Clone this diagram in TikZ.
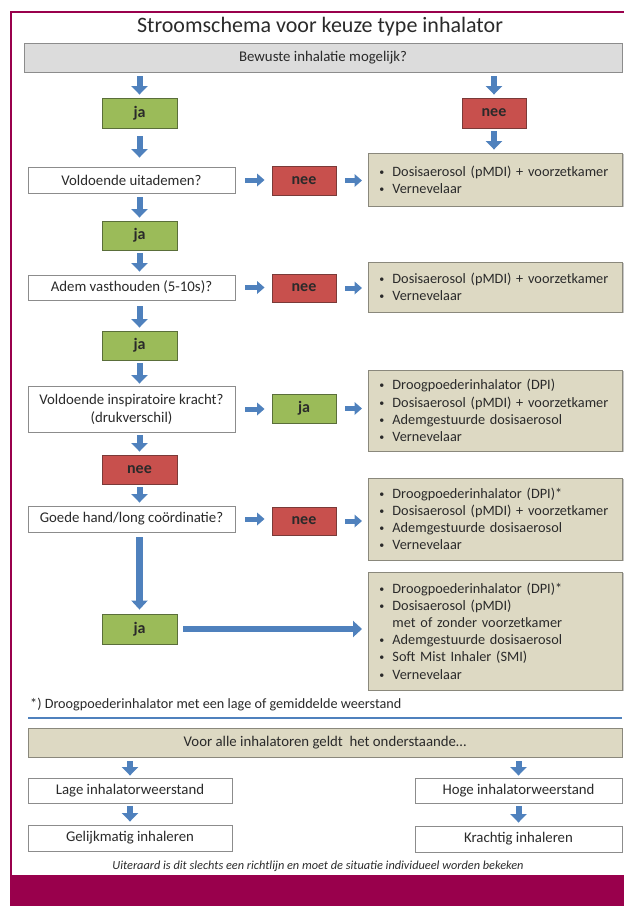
\documentclass[tikz,border=0pt]{standalone}
\usepackage{fontspec}
\setmainfont{Carlito}
\usetikzlibrary{arrows.meta,shadows}
\definecolor{crim}{HTML}{99004C}
\definecolor{arrblue}{HTML}{4F81BD}
\definecolor{gfill}{HTML}{9BBB59}
\definecolor{gdraw}{HTML}{5A6E3A}
\definecolor{rfill}{HTML}{C8504D}
\definecolor{rdraw}{HTML}{7A3A38}
\definecolor{bfill}{HTML}{DDD9C3}
\definecolor{bdraw}{HTML}{8A887C}
\definecolor{gryfill}{HTML}{DCDCDC}
\definecolor{grydraw}{HTML}{8C8C8C}
\definecolor{txt}{HTML}{2A2A2A}
\newcommand\bit[1]{\makebox[13pt][l]{\raisebox{0.15ex}{\fontsize{10}{10}\selectfont\textbullet}}#1}
\newcommand\bcont[1]{\hspace*{13pt}#1}
\begin{document}
\begin{tikzpicture}[x=1pt,y=-1pt,
  bx/.style={draw=grydraw, line width=0.9pt, inner sep=0pt, text=txt,
    font=\fontsize{14.8}{17}\selectfont, align=center,
    drop shadow={shadow xshift=1.3pt, shadow yshift=-1.3pt, fill=black, opacity=0.22}},
  whitebox/.style={bx, fill=white},
  graybox/.style={bx, fill=gryfill},
  jabox/.style={bx, draw=gdraw, fill=gfill, minimum width=75pt,
    font=\bfseries\fontsize{16}{18}\selectfont},
  neebox/.style={bx, draw=rdraw, fill=rfill, minimum width=64pt,
    font=\bfseries\fontsize{16}{18}\selectfont},
  beige/.style={bx, draw=bdraw, fill=bfill, anchor=west, text width=232pt,
    inner xsep=11pt, align=left, font=\fontsize{14.3}{17.2}\selectfont},
  darrow/.style={draw=arrblue, line width=6pt, -{Triangle[width=16pt,length=8.5pt]}},
  rarrow/.style={draw=arrblue, line width=5pt, -{Triangle[width=12.5pt,length=7.5pt]}},
  longarrow/.style={draw=arrblue, line width=6.5pt, -{Triangle[width=16pt,length=9pt]}},
  sh/.style 2 args={shorten <=#1pt, shorten >=#2pt}
]
\useasboundingbox (0,0) rectangle (624,906);
% frame
\fill[crim] (10,875) rectangle (624,906);
\draw[crim, line width=2.5pt] (11,875) -- (11,12) -- (624,12);

\node[text=txt, font=\fontsize{22}{24}\selectfont] (title) at (320,27) {Stroomschema voor keuze type inhalator};
\node[graybox, minimum width=598pt, minimum height=29pt] (bew) at (323,57.5) {Bewuste inhalatie mogelijk?};

% left column
\node[jabox, minimum height=30pt] (ja1) at (139.5,113) {ja};
\node[whitebox, minimum width=207pt, minimum height=26pt] (q1) at (131.5,180) {Voldoende uitademen?};
\node[jabox, minimum height=29pt] (ja2) at (139.5,235.5) {ja};
\node[whitebox, minimum width=207pt, minimum height=25pt] (q2) at (131.5,287.5) {Adem vasthouden (5-10s)?};
\node[jabox, minimum height=29pt] (ja3) at (139.5,345.5) {ja};
\node[whitebox, minimum width=207pt, minimum height=46pt, font=\fontsize{14.8}{18}\selectfont] (q3) at (131.5,409) {Voldoende inspiratoire kracht?\\(drukverschil)};
\node[neebox, minimum width=75pt, minimum height=29pt] (nee3) at (139.5,469.5) {nee};
\node[whitebox, minimum width=207pt, minimum height=26pt] (q4) at (131.5,519) {Goede hand/long coördinatie?};
\node[jabox, minimum height=30pt] (ja4) at (139.5,629) {ja};

% middle column
\node[neebox, minimum height=29pt] (nee1) at (304,180.5) {nee};
\node[neebox, minimum height=28pt] (nee2) at (304,288) {nee};
\node[jabox, minimum width=64pt, minimum height=29pt] (jam) at (304,408.5) {ja};
\node[neebox, minimum height=28pt] (nee4) at (304,521) {nee};

% right column
\node[neebox, minimum height=30pt] (nee0) at (494,113) {nee};
\node[beige, minimum height=53pt] (b1) at (368,179.5) {\bit{Dosisaerosol (pMDI) + voorzetkamer}\\\bit{Vernevelaar}};
\node[beige, minimum height=50pt] (b2) at (368,287) {\bit{Dosisaerosol (pMDI) + voorzetkamer}\\\bit{Vernevelaar}};
\node[beige, minimum height=81pt] (b3) at (368,410.5) {\bit{Droogpoederinhalator (DPI)}\\\bit{Dosisaerosol (pMDI) + voorzetkamer}\\\bit{Ademgestuurde dosisaerosol}\\\bit{Vernevelaar}};
\node[beige, minimum height=82pt] (b4) at (368,519) {\bit{Droogpoederinhalator (DPI)*}\\\bit{Dosisaerosol (pMDI) + voorzetkamer}\\\bit{Ademgestuurde dosisaerosol}\\\bit{Vernevelaar}};
\node[beige, minimum height=118pt] (b5) at (368,631) {\bit{Droogpoederinhalator (DPI)*}\\\bit{Dosisaerosol (pMDI)}\\\bcont{met of zonder voorzetkamer}\\\bit{Ademgestuurde dosisaerosol}\\\bit{Soft Mist Inhaler (SMI)}\\\bit{Vernevelaar}};

% arrows top part
\draw[darrow, sh={4}{3}] (ja1.north |- bew.south) -- (ja1.north);
\draw[darrow, sh={4}{3}] (nee0.north |- bew.south) -- (nee0.north);
\draw[darrow, sh={3}{3}] (nee0.south) -- (nee0.south |- b1.north);
\draw[darrow, sh={8}{9}] (ja1.south) -- (ja1.south |- q1.north);
\draw[rarrow, sh={10}{7}] (q1.east) -- (q1.east -| nee1.west);
\draw[rarrow, sh={9}{6}] (nee1.east) -- (nee1.east -| b1.west);
\draw[darrow, sh={4}{3}] (ja2.north |- q1.south) -- (ja2.north);
\draw[darrow, sh={3}{3}] (ja2.south) -- (ja2.south |- q2.north);
\draw[rarrow, sh={10}{7}] (q2.east) -- (q2.east -| nee2.west);
\draw[rarrow, sh={9}{6}] (nee2.east) -- (nee2.east -| b2.west);
\draw[darrow, sh={6}{3}] (ja3.north |- q2.south) -- (ja3.north);
\draw[darrow, sh={3}{2}] (ja3.south) -- (ja3.south |- q3.north);
\draw[rarrow, sh={10}{7}] (q3.east) -- (q3.east -| jam.west);
\draw[rarrow, sh={9}{6}] (jam.east) -- (jam.east -| b3.west);
\draw[darrow, sh={3}{3}] (nee3.north |- q3.south) -- (nee3.north);
\draw[darrow, sh={3}{3}] (nee3.south) -- (nee3.south |- q4.north);
\draw[rarrow, sh={10}{7}] (q4.east) -- (q4.east -| nee4.west);
\draw[rarrow, sh={9}{6}] (nee4.east) -- (nee4.east -| b4.west);
\draw[longarrow, sh={5}{4}] (ja4.north |- q4.south) -- (ja4.north);
\draw[longarrow, sh={6}{6}] (ja4.east) -- (ja4.east -| b5.west);

% footnote and separator
\node[anchor=west, inner sep=0pt, text=txt, font=\fontsize{14.2}{16}\selectfont] (fn) at (30,705) {*) Droogpoederinhalator met een lage of gemiddelde weerstand};
\coordinate (sepL) at (28,718);
\coordinate (sepR) at (622,718);
\draw[arrblue, line width=1.5pt] (sepL) -- (sepR);

% bottom part
\node[bx, draw=bdraw, fill=bfill, minimum width=594pt, minimum height=29pt] (all) at (325,742.5) {Voor alle inhalatoren geldt\ \ het onderstaande\ldots};
\node[whitebox, minimum width=204pt, minimum height=25pt] (lage) at (130,790.5) {Lage inhalatorweerstand};
\node[whitebox, minimum width=204pt, minimum height=26pt] (gelijk) at (130,838) {Gelijkmatig inhaleren};
\node[whitebox, minimum width=207pt, minimum height=25pt] (hoge) at (518.5,790.5) {Hoge inhalatorweerstand};
\node[whitebox, minimum width=207pt, minimum height=26pt] (kracht) at (518.5,839) {Krachtig inhaleren};
\draw[darrow, sh={4}{2}] (lage.north |- all.south) -- (lage.north);
\draw[darrow, sh={3}{3}] (lage.south) -- (gelijk.north);
\draw[darrow, sh={4}{2}] (hoge.north |- all.south) -- (hoge.north);
\draw[darrow, sh={3}{3}] (hoge.south) -- (kracht.north);

\node[text=txt, font=\itshape\fontsize{12.3}{14}\selectfont] (note) at (318,866) {Uiteraard is dit slechts een richtlijn en moet de situatie individueel worden bekeken};
\end{tikzpicture}
\end{document}
